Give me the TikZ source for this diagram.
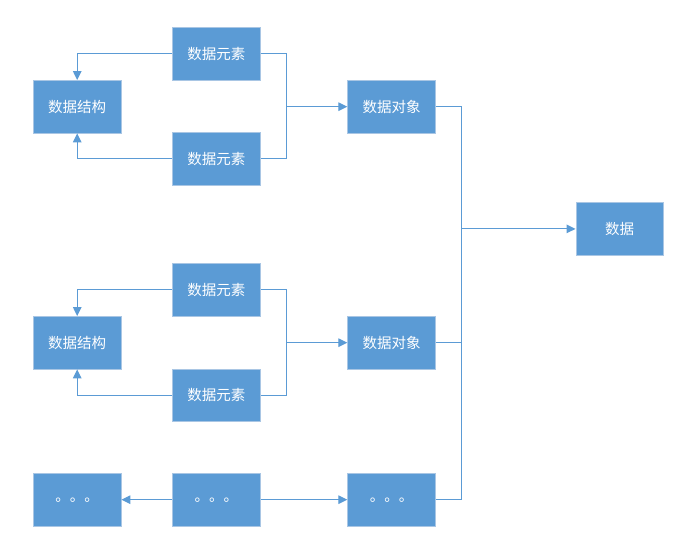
\documentclass[tikz,border=0pt]{standalone}
\usepackage{fontspec}
\newfontfamily\cjk{Noto Sans CJK SC}
\usetikzlibrary{arrows.meta}
\definecolor{boxblue}{HTML}{5B9BD5}
\definecolor{boxedge}{HTML}{A9C6E4}
\definecolor{linkblue}{HTML}{5B9BD5}
\tikzset{
  blk/.style={rectangle, fill=boxblue, draw=boxedge, line width=0.8pt,
    minimum width=87.5pt, minimum height=52.5pt, inner sep=0pt,
    text=white, font=\cjk\fontsize{14.5}{17}\selectfont},
  lnk/.style={draw=linkblue, line width=1.2pt},
  arr/.style={lnk, -{Triangle[length=9pt,width=8.5pt]}}
}
\begin{document}
\begin{tikzpicture}[x=1pt,y=-1pt]
\useasboundingbox (0,0) rectangle (689,553);
% group 1
\node[blk] (s1) at (77.2,106.7) {数据结构};
\node[blk] (e1) at (216.4,53.7) {数据元素};
\node[blk] (e2) at (216.4,158.9) {数据元素};
\node[blk] (o1) at (391.5,106.7) {数据对象};
% data
\node[blk] (d) at (619.7,228.9) {数据};
% group 2
\node[blk] (s2) at (77.2,342.7) {数据结构};
\node[blk] (e3) at (216.4,289.7) {数据元素};
\node[blk] (e4) at (216.4,395.5) {数据元素};
\node[blk] (o2) at (391.5,342.7) {数据对象};
% dots
\node[blk] (l) at (77.2,499.7) {。。。};
\node[blk] (m) at (216.4,499.7) {。。。};
\node[blk] (r) at (391.5,499.7) {。。。};
% junction coordinates
\coordinate (j1) at (286.7,0);
\coordinate (jd) at (461.7,0);
% group 1 links
\draw[arr] (e1.west) -| (s1.north);
\draw[arr] (e2.west) -| (s1.south);
\draw[lnk] (e1.east) -- (e1.east -| j1) -- (e2.east -| j1) -- (e2.east);
\draw[arr] (j1 |- o1.west) -- (o1.west);
% group 2 links
\draw[arr] (e3.west) -| (s2.north);
\draw[arr] (e4.west) -| (s2.south);
\draw[lnk] (e3.east) -- (e3.east -| j1) -- (e4.east -| j1) -- (e4.east);
\draw[arr] (j1 |- o2.west) -- (o2.west);
% dots links
\draw[arr] (m.west) -- (l.east);
\draw[arr] (m.east) -- (r.west);
% to data
\draw[lnk] (o1.east) -- (o1.east -| jd) -- (r.east -| jd) -- (r.east);
\draw[lnk] (o2.east) -- (o2.east -| jd);
\draw[arr] (jd |- d.west) -- (d.west);
\end{tikzpicture}
\end{document}
